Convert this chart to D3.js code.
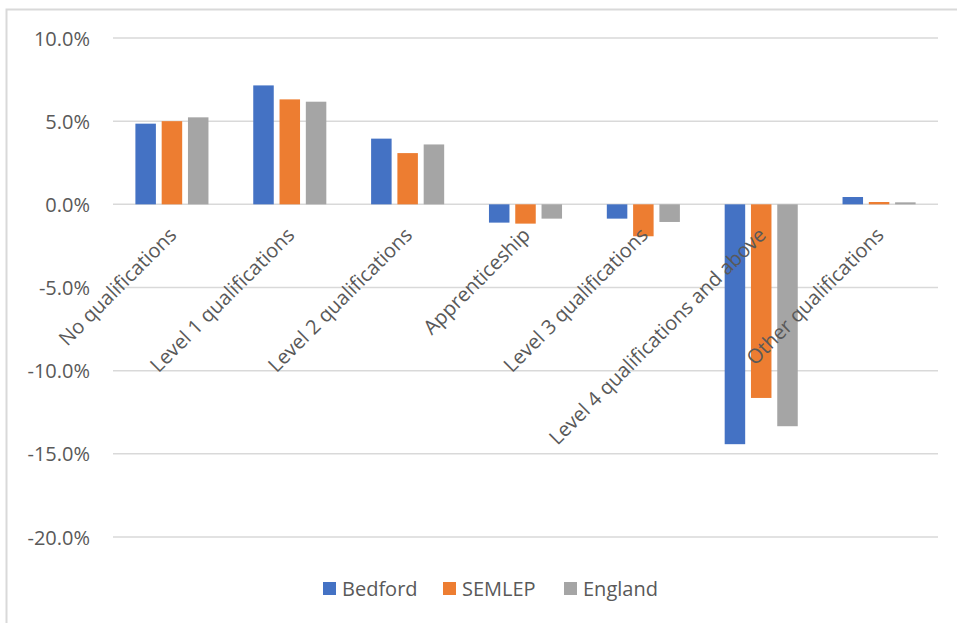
<!DOCTYPE html>
<html>
<head>
<meta charset="utf-8">
<script src="https://cdn.jsdelivr.net/npm/d3@7"></script>
<style>
  html, body { margin: 0; padding: 0; background: #fff; }
  svg text { font-family: "Open Sans", "Segoe UI", sans-serif; fill: #595959; }
</style>
</head>
<body>
<svg id="chart" width="957" height="623"></svg>
<script>
const categories = ["No qualifications", "Level 1 qualifications", "Level 2 qualifications", "Apprenticeship", "Level 3 qualifications", "Level 4 qualifications and above", "Other qualifications"];
const seriesNames = ["Bedford", "SEMLEP", "England"];
const bedford = [4.85, 7.15, 3.95, -1.10, -0.86, -14.42, 0.44];
const semlep  = [5.00, 6.31, 3.08, -1.16, -1.92, -11.64, 0.14];
const england = [5.23, 6.17, 3.60, -0.86, -1.06, -13.34, 0.12];
const yTicks = [10, 5, 0, -5, -10, -15, -20];
const colors = ["#4472C4", "#ED7D31", "#A5A5A5"];

const seriesValues = [bedford, semlep, england];
const svg = d3.select("#chart");

// chart border
svg.append("rect").attr("x", 6.5).attr("y", 9.5).attr("width", 1000).attr("height", 1000)
  .attr("fill", "none").attr("stroke", "#d9d9d9").attr("stroke-width", 2);

const plot = { left: 113, right: 938, top: 38, bottom: 537 };
const y = d3.scaleLinear().domain([-20, 10]).range([plot.bottom, plot.top]);
const x0 = d3.scaleBand().domain(categories).range([plot.left, plot.right]).paddingInner(0.38).paddingOuter(0.19);
const x1 = d3.scaleBand().domain(seriesNames).range([0, x0.bandwidth()]).paddingInner(0.22);

// gridlines
svg.append("g").selectAll("line").data(yTicks).join("line")
  .attr("x1", plot.left).attr("x2", plot.right)
  .attr("y1", d => y(d)).attr("y2", d => y(d))
  .attr("stroke", "#d9d9d9").attr("stroke-width", 1.5);

// y tick labels
const yAxis = d3.axisLeft(y).tickValues(yTicks).tickSize(0).tickPadding(0)
  .tickFormat(d => d.toFixed(1) + "%");
const gy = svg.append("g").attr("transform", `translate(${plot.left - 23},0)`).call(yAxis);
gy.select(".domain").remove();
gy.selectAll("text").attr("font-size", 20).attr("fill", "#595959").attr("font-family", '"Open Sans", sans-serif').attr("dy", "0.35em");

// bars
const groups = svg.append("g").selectAll("g").data(categories).join("g")
  .attr("transform", d => `translate(${x0(d)},0)`);
groups.selectAll("rect").data((c, i) => seriesNames.map((s, j) => ({ s, v: seriesValues[j][i], j })))
  .join("rect")
  .attr("x", d => x1(d.s))
  .attr("width", x1.bandwidth())
  .attr("y", d => y(Math.max(0, d.v)))
  .attr("height", d => Math.abs(y(d.v) - y(0)))
  .attr("fill", d => colors[d.j]);

// category labels
const xAxis = d3.axisBottom(x0).tickSize(0).tickPadding(0);
const gx = svg.append("g").attr("transform", `translate(0,${y(0)})`).call(xAxis);
gx.select(".domain").remove();
gx.selectAll("text")
  .attr("font-size", 20).attr("fill", "#595959").attr("font-family", '"Open Sans", sans-serif')
  .attr("text-anchor", "end")
  .attr("transform", "translate(-4,22) rotate(-45)")
  .attr("dy", "0.7em").attr("x", 0).attr("y", 0);

// legend
const legendX = [323, 443, 564];
const lg = svg.append("g").selectAll("g").data(seriesNames).join("g")
  .attr("transform", (d, i) => `translate(${legendX[i]},582)`);
lg.append("rect").attr("width", 13).attr("height", 13).attr("fill", (d, i) => colors[i]);
lg.append("text").attr("x", 19).attr("y", 6.5).attr("dy", "0.35em").attr("font-size", 20).text(d => d);
</script>
</body>
</html>
